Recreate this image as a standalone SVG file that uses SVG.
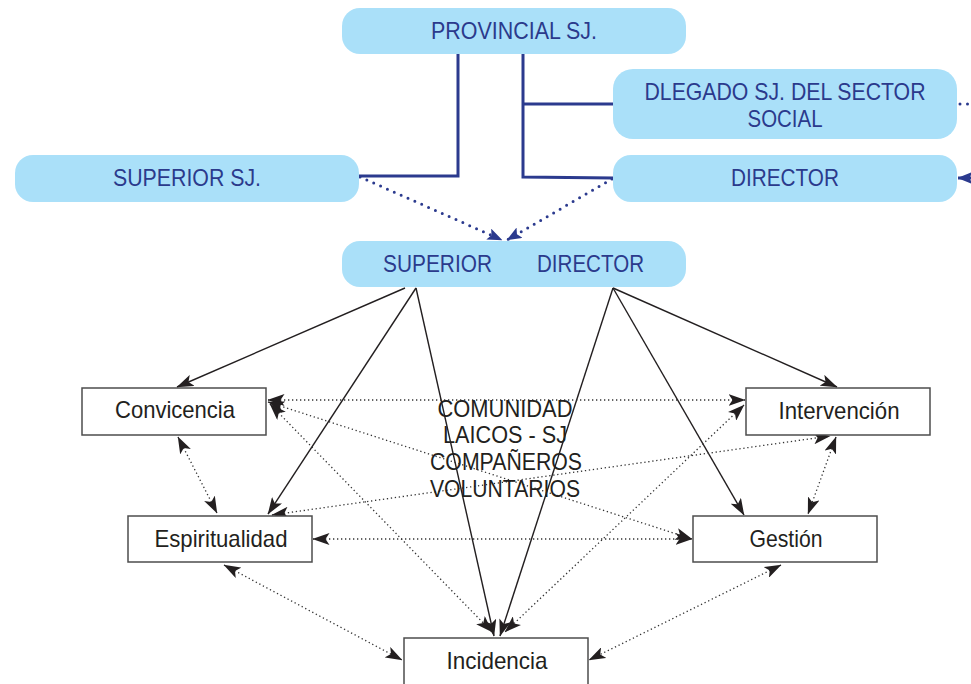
<svg xmlns="http://www.w3.org/2000/svg" width="971" height="684" viewBox="0 0 971 684">
<defs>
<marker id="ah" markerUnits="userSpaceOnUse" markerWidth="17" markerHeight="12" viewBox="0 0 17 12" refX="16.5" refY="6" orient="auto-start-reverse"><path d="M0,0 L17,6 L0,12 L4,6 z" fill="#231f20"/></marker>
<marker id="bah" markerUnits="userSpaceOnUse" markerWidth="15" markerHeight="12" viewBox="0 0 15 12" refX="14.5" refY="6" orient="auto"><path d="M0,0 L15,6 L0,12 L3,6 z" fill="#2b3a8e"/></marker>
</defs>
<style>
.bbox{fill:#aae0f9}
.btxt{font-family:"Liberation Sans",Arial,sans-serif;font-size:24px;fill:#2b3a8c;text-anchor:middle}
.box{fill:#fff;stroke:#4d4d4d;stroke-width:1.5}
.txt{font-family:"Liberation Sans",Arial,sans-serif;font-size:24px;fill:#231f20;text-anchor:middle}
.solid{fill:none;stroke:#231f20;stroke-width:1.4;marker-end:url(#ah)}
.dot{fill:none;stroke:#333;stroke-width:1.3;stroke-dasharray:1.3 2.7;marker-start:url(#ah);marker-end:url(#ah)}
.bline{fill:none;stroke:#2b3a8e;stroke-width:3}
.bdot{fill:none;stroke:#2b3a8e;stroke-width:3;stroke-linecap:round;stroke-dasharray:0 7.5}
.barrow{marker-end:url(#bah)}
</style>

<g id="connectors">
  <path class="bline" d="M458,54 V176 H359"/>
  <path class="bline" d="M523,54 V177 L613,178"/>
  <path class="bline" d="M523,104 H613"/>
  <path class="bdot barrow" d="M360,177 L502,240"/>
  <path class="bdot barrow" d="M612,179 L507,240"/>
  <path class="bdot" d="M960,104 H978"/>
  <path class="bline barrow" d="M995,178 L958,178"/>

  <path class="solid" d="M405,288 L177,387"/>
  <path class="solid" d="M416,288 L268,514"/>
  <path class="solid" d="M416,288 L494,636"/>
  <path class="solid" d="M613,288 L837,387"/>
  <path class="solid" d="M613,288 L744,515"/>
  <path class="solid" d="M613,288 L500,636"/>

  <path class="dot" d="M268,400 L745,400"/>
  <path class="dot" d="M268,402 L692,539"/>
  <path class="dot" d="M270,404 L492,632"/>
  <path class="dot" d="M178,437 L217,513"/>
  <path class="dot" d="M272,515 L830,436"/>
  <path class="dot" d="M313,539 L692,539"/>
  <path class="dot" d="M224,565 L402,660"/>
  <path class="dot" d="M836,437 L808,514"/>
  <path class="dot" d="M744,405 L505,632"/>
  <path class="dot" d="M781,565 L589,660"/>
</g>

<g id="provincial">
  <rect class="bbox" x="342" y="8" width="344" height="46" rx="18"/>
  <text class="btxt" x="514" y="39" textLength="166" lengthAdjust="spacingAndGlyphs">PROVINCIAL SJ.</text>
</g>
<g id="delegado">
  <rect class="bbox" x="613" y="69" width="344" height="70" rx="20"/>
  <text class="btxt" x="785" y="100" textLength="281" lengthAdjust="spacingAndGlyphs">DLEGADO SJ. DEL SECTOR</text>
  <text class="btxt" x="785" y="127" textLength="75" lengthAdjust="spacingAndGlyphs">SOCIAL</text>
</g>
<g id="superior-sj">
  <rect class="bbox" x="15" y="155" width="344" height="47" rx="18"/>
  <text class="btxt" x="187" y="186" textLength="148" lengthAdjust="spacingAndGlyphs">SUPERIOR SJ.</text>
</g>
<g id="director">
  <rect class="bbox" x="613" y="155" width="344" height="47" rx="18"/>
  <text class="btxt" x="785" y="186" textLength="108" lengthAdjust="spacingAndGlyphs">DIRECTOR</text>
</g>
<g id="superior-director">
  <rect class="bbox" x="342" y="241" width="344" height="46" rx="18"/>
  <text class="btxt" x="437.5" y="272" textLength="109" lengthAdjust="spacingAndGlyphs">SUPERIOR</text>
  <text class="btxt" x="590.5" y="272" textLength="107" lengthAdjust="spacingAndGlyphs">DIRECTOR</text>
</g>

<g id="convicencia">
  <rect class="box" x="82" y="388" width="184" height="47"/>
  <text class="txt" x="175" y="418" textLength="120" lengthAdjust="spacingAndGlyphs">Convicencia</text>
</g>
<g id="intervencion">
  <rect class="box" x="746" y="388" width="184" height="47"/>
  <text class="txt" x="839" y="419" textLength="121" lengthAdjust="spacingAndGlyphs">Intervención</text>
</g>
<g id="espiritualidad">
  <rect class="box" x="128" y="516" width="184" height="46"/>
  <text class="txt" x="221" y="547" textLength="133" lengthAdjust="spacingAndGlyphs">Espiritualidad</text>
</g>
<g id="gestion">
  <rect class="box" x="693" y="516" width="184" height="46"/>
  <text class="txt" x="786" y="547" textLength="73" lengthAdjust="spacingAndGlyphs">Gestión</text>
</g>
<g id="incidencia">
  <rect class="box" x="404" y="638" width="184" height="48"/>
  <text class="txt" x="497" y="669" textLength="101" lengthAdjust="spacingAndGlyphs">Incidencia</text>
</g>
<g id="comunidad">
  <text class="txt" x="505" y="417" textLength="135" lengthAdjust="spacingAndGlyphs">COMUNIDAD</text>
  <text class="txt" x="505" y="443" textLength="124" lengthAdjust="spacingAndGlyphs">LAICOS - SJ</text>
  <text class="txt" x="506" y="470" textLength="152" lengthAdjust="spacingAndGlyphs">COMPAÑEROS</text>
  <text class="txt" x="505" y="497" textLength="150" lengthAdjust="spacingAndGlyphs">VOLUNTARIOS</text>
</g>
</svg>
